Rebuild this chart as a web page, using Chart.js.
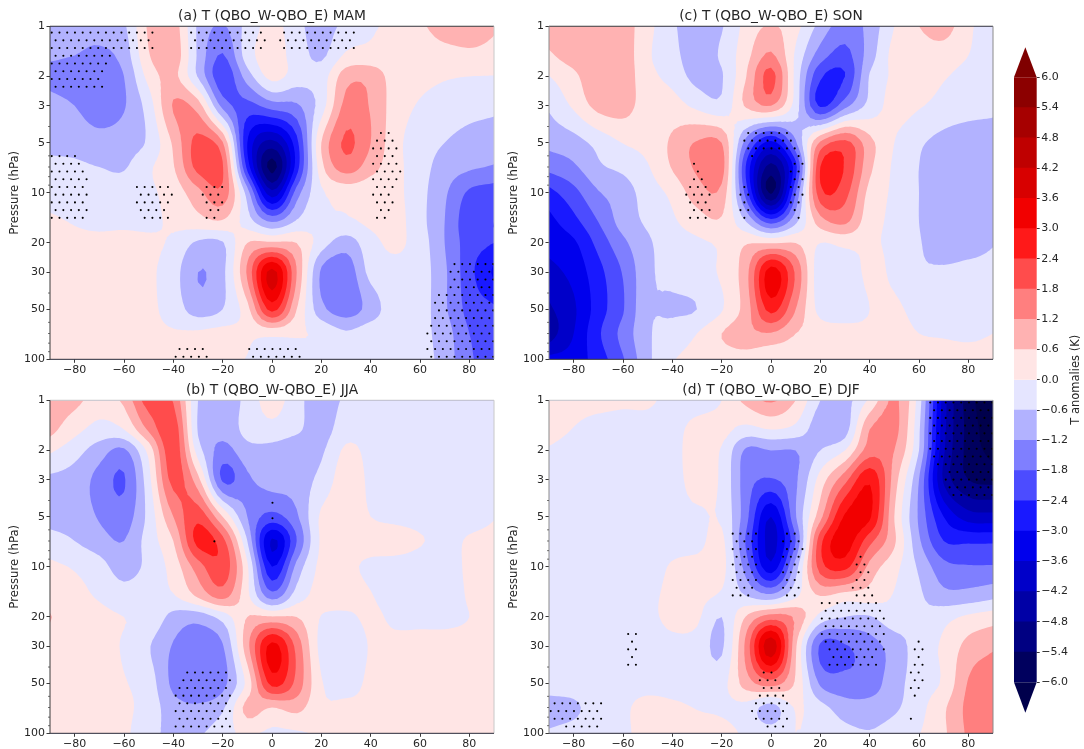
<!DOCTYPE html>
<html>
<head>
<meta charset="utf-8">
<title>T (QBO_W-QBO_E)</title>
<script src="https://cdn.jsdelivr.net/npm/chart.js@4"></script>
<style>
body { margin: 0; background: #fff; }
canvas { position: absolute; }
</style>
</head>
<body>
<canvas id="panelA" width="510" height="375" style="left:0;top:0"></canvas>
<canvas id="panelC" width="510" height="375" style="left:499px;top:0"></canvas>
<canvas id="panelB" width="510" height="375" style="left:0;top:374px"></canvas>
<canvas id="panelD" width="510" height="375" style="left:499px;top:374px"></canvas>
<canvas id="colorbar" width="84" height="749" style="left:1000px;top:0"></canvas>
<script>
// Grid of the anomalies
const lats = [-90,-80,-70,-60,-50,-40,-30,-20,-10,0,10,20,30,40,50,60,70,80,90];
const pressures = [1,1.5,2,3,5,7,10,15,20,30,50,70,100];

// T anomalies (K), one row per pressure level
const tMam = [
  [-.9,-.9,-.9,-.7,.7,.9,-.7,-1.25,-.4,.2,-.4,-.9,-.4,-.1,.2,.5,.85,.8,.65],
  [-1.1,-1.2,-1.35,-.95,.55,1,-.7,-1.85,-.3,.3,-.3,-.7,.1,.2,.2,.3,.4,.5,.45],
  [-1.4,-1.55,-1.6,-1.2,.2,.75,-.65,-2.2,-.9,.2,-.3,-.3,.95,1,.3,.15,.05,0,-.02],
  [-.95,-1.2,-1.55,-1.25,-.3,1.25,.9,-1.4,-2,-1.5,-1.3,-.3,1.4,1.15,.3,-.05,-.2,-.35,-.45],
  [-.75,-.8,-.95,-.85,-.5,.7,2,1.25,-3,-4.4,-2.6,.6,1.9,1.2,.2,-.3,-.6,-.85,-.95],
  [-.45,-.5,-.6,-.65,-.1,.55,2,1.85,-2.6,-5.6,-2.7,.4,1.5,.85,.2,-.35,-.85,-1.1,-1.25],
  [-.25,-.3,-.3,-.3,-.1,.25,1,1.6,-.9,-4,-1.5,-.1,.2,.15,.15,-.4,-1.1,-1.9,-2.1],
  [.1,-.03,-.1,-.1,-.1,.1,.35,.5,-.3,-1.2,-.5,-.1,-.1,.1,.2,-.4,-1.2,-2.2,-2.4],
  [.15,.1,.1,.15,.1,-.1,-.7,-.65,.6,.7,.6,-.3,-.9,-.2,.1,-.3,-1.2,-2.1,-2.4],
  [.1,.1,.1,.1,.1,-.35,-1.2,-.75,1.3,3.8,1.2,-1.3,-1.6,-.4,-.15,-.3,-1.1,-2.2,-3.1],
  [.1,.1,.1,.1,.1,-.25,-.9,-.6,.4,2.6,.6,-1,-1.5,-.95,-.2,-.3,-1.1,-2,-2.3],
  [.1,.1,.1,.1,.1,.05,.1,.2,.1,.15,.05,-.1,-.5,-.2,-.15,-.4,-.9,-1.8,-2.1],
  [.1,.1,.1,.1,.1,.1,.1,.1,-.02,-.3,-.1,-.2,-.2,-.2,-.2,-.35,-.85,-1.7,-2.1]
];
const tJja = [
  [1,.8,.3,.75,2.1,1.75,-.6,-1,-.4,.3,-.4,-.9,-.5,-.3,-.3,-.3,-.3,-.3,-.3],
  [.8,.2,-.2,0,1.3,2.2,-.65,-1,-.4,-.2,-.5,-.85,-.25,-.2,-.2,-.2,-.2,-.2,-.2],
  [.1,-.35,-.9,-1.3,.2,2.2,-.3,-1.4,-.8,-.8,-1,-.7,.1,-.15,-.2,-.2,-.2,-.2,-.2],
  [-.7,-.85,-1.4,-1.85,-.2,2,.8,-1.9,-1.3,-.95,-.95,-.4,.3,-.1,-.2,-.2,-.2,-.2,-.2],
  [-.8,-.85,-1.25,-1.5,-.4,1.2,2.2,.6,-1.2,-2,-1.3,.1,.2,0,-.15,-.2,-.2,-.15,-.02],
  [-.35,-.6,-.95,-1.2,-.3,.6,2.6,2,-.6,-3.7,-1.8,.1,.15,.2,.3,.05,-.15,.05,.1],
  [.1,-.05,-.35,-.9,-.4,.25,1.5,2.2,.1,-3,-1,.15,.1,-.1,-.25,-.3,-.3,.1,.1],
  [.1,.1,-.05,-.3,-.1,-.05,.7,1.4,.15,-1.5,-.3,.2,.2,.03,-.25,-.3,-.3,.05,.1],
  [.65,.1,.1,0,-.1,-.8,-.95,-.35,.6,.65,.6,-.02,-.1,.1,-.1,-.1,-.1,0,.1],
  [.1,.1,.1,-.05,-.55,-1.25,-1.55,-1.25,1,3.2,1.6,-.2,-.45,.05,.1,.1,.1,.1,.1],
  [.1,.1,.1,.03,-.3,-1.35,-1.7,-1.4,.2,2.6,1.6,.05,-.2,.1,.1,.1,.1,.1,.1],
  [.1,.1,.1,.1,-.25,-.95,-1.1,-.7,.8,.6,.8,.1,.1,.1,.1,.1,.1,.1,.1],
  [.1,.1,.1,.1,-.4,-.75,-.7,-.2,.1,-.15,-.1,.1,.1,.1,.1,.1,.1,.1,.1]
];
const tSon = [
  [.9,1.15,1.1,.9,.2,-.5,-.9,-.65,.2,.65,.2,-.8,-1.5,-1,0,.6,.9,.1,-.2],
  [.5,.9,1.05,.95,.1,-.4,-.9,-.5,.4,1.3,-.1,-1.5,-2,-.9,.2,.3,.3,0,-.3],
  [-.02,.45,1.1,.95,.2,-.2,-.8,-.65,.6,2,-.2,-2.3,-2.4,-.55,.1,.25,.05,-.2,-.35],
  [-.5,.1,.8,.85,.3,.25,-.15,-.4,.7,1.2,-.3,-2.5,-1.4,-.4,.2,.05,-.2,-.35,-.45],
  [-1.05,-.85,-.4,.02,.2,.7,1.25,1.2,-1.5,-3.2,-1.3,1.3,2,.8,0,-.5,-.8,-.95,-.95],
  [-1.6,-1.3,-.7,-.45,-.05,.65,1.3,1.5,-2.5,-5,-2.6,2.4,2.35,.75,-.1,-.6,-.9,-1,-1],
  [-2.6,-2,-1.25,-.9,-.3,.15,.9,1,-2.1,-5.5,-1.8,2.2,2,.4,-.1,-.6,-.85,-.95,-1],
  [-3.2,-2.6,-1.8,-.95,-.5,-.1,.3,.5,-.6,-2,-.7,.9,1.3,.2,-.1,-.6,-.95,-1,-1],
  [-3.4,-3.1,-2.2,-1.35,-.7,-.3,-.1,.1,.55,.55,.6,0,.15,.05,-.1,-.55,-.95,-.9,-.65],
  [-3.8,-3.4,-2.6,-1.75,-.75,-.4,-.2,.1,1,3.3,1.7,-.4,-.3,.1,-.1,-.5,-.5,-.4,-.4],
  [-4.3,-3.7,-2.7,-1.85,-.7,-.7,-.6,-.05,.9,2.6,1.2,-.2,-.3,0,.1,-.2,-.3,-.35,-.4],
  [-4.5,-3.6,-2.5,-1.6,-.7,-.3,0,.6,1,1.15,.6,.3,.2,.1,.2,0,-.05,-.1,0],
  [-3.4,-3.3,-2.7,-1.85,-.75,-.05,.15,.3,.3,-.02,.2,.1,.1,.1,.2,.2,.2,.2,.1]
];
const tDjf = [
  [.1,.2,.2,.1,.1,-.2,-.3,0,.8,1.3,.6,-.6,-.8,.1,1.3,-.3,-3.9,-5.7,-6.6],
  [.2,-.02,-.2,-.2,-.2,-.2,.2,.2,-.2,0,-.2,-.95,-.85,1.2,1.4,-.5,-4,-5.6,-6.4],
  [-.05,-.2,-.2,-.2,-.2,-.15,.2,-.05,-1.3,-1.2,-1.2,-.6,0,1.5,1.2,-.6,-4.1,-5.6,-6.2],
  [-.2,-.2,-.2,-.2,-.2,-.2,.2,-.1,-1.5,-1.85,-1.3,.25,1.6,2.9,.9,-1.2,-4.3,-5.4,-5.6],
  [-.2,-.2,-.2,-.2,-.2,-.2,-.1,-.1,-1.6,-3.6,-1.25,1,3.1,3.1,.6,-1.3,-3,-3.9,-4],
  [-.2,-.2,-.2,-.2,-.2,-.2,-.2,.15,-1.9,-3.8,-1.8,2.2,3.3,2,.7,-1.1,-2.4,-2.5,-2.5],
  [-.2,-.2,-.2,-.2,-.2,.05,.2,.2,-1.5,-3.4,-.9,2.1,2.6,1,.2,-.7,-1.6,-1.75,-1.75],
  [-.2,-.2,-.2,-.2,-.1,.1,.15,-.1,-.6,-1,-.1,.6,.3,.3,-.05,-.5,-1,-.95,-.75],
  [-.2,-.2,-.2,-.2,-.1,.1,.1,-.6,.65,1.5,1.1,-.2,-.6,-.65,-.2,-.5,-.2,.1,.3],
  [-.2,-.2,-.2,-.2,-.2,-.1,-.2,-.7,1.4,4,.7,-1.9,-1.85,-1.45,-.95,-.3,.1,.8,1.1],
  [-.2,-.2,-.2,-.2,-.2,-.2,-.2,-.2,.9,1.5,.5,-1.3,-1.6,-1.5,-.85,-.3,.1,1.25,1.6],
  [-.95,-.75,-.2,-.1,.2,.1,-.02,-.1,-.2,-.85,.05,-.4,-.9,-.95,-.7,-.2,.5,1.35,1.6],
  [-.5,-.3,-.2,-.1,.2,.2,.2,.2,-.1,-.3,0,-.2,-.4,-.55,-.3,-.02,.5,1.3,1.6]
];

// Significance stippling: pressure of each dot row, upper and lower panels differ slightly
const rowPressuresTop = [1.092,1.215,1.352,1.504,1.674,1.862,2.072,2.306,2.565,2.854,3.174,3.532,3.929,4.372,4.864,5.412,6.021,6.699,7.454,8.293,9.226,10.26,11.42,12.71,14.14,15.73,17.5,19.47,21.66,24.1,26.81,29.83,33.19,36.93,41.08,45.71,50.85,56.57,62.94,70.03,77.91,86.69,96.45];
const rowPressuresLow = [1.031,1.147,1.276,1.42,1.58,1.758,1.956,2.177,2.421,2.694,2.996,3.334,3.709,4.127,4.592,5.109,5.684,6.324,7.037,7.829,8.709,9.685,10.78,12,13.35,14.85,16.52,18.38,20.45,22.75,25.31,28.16,31.33,34.86,38.78,43.15,48,53.4,59.42,66.11,73.55,81.84,91.05];
// Each run is [row, first column, last column] of the dot lattice
const dotsMam = [
  [0,0,13],[0,18,27],[0,30,39],[1,0,12],[1,18,27],[1,29,38],[2,0,13],[2,18,27],[2,30,39],[3,0,7],
  [4,0,7],[5,0,6],[6,0,6],[7,0,6],
  [16,0,3],[17,0,3],[18,0,4],[19,0,4],[20,0,4],[21,0,4],[22,0,4],[23,0,4],[24,0,4],
  [20,11,15],[21,11,15],[22,11,15],[23,11,14],[24,12,15],
  [20,20,22],[21,19,21],[22,20,22],[23,20,21],[24,20,21],
  [41,16,19],[42,16,20],[41,25,31],[42,26,32],
  [13,42,43],[14,42,44],[15,41,44],[16,42,44],[17,41,44],[18,42,45],[19,41,44],[20,42,44],[21,41,43],[22,42,44],[23,42,43],[24,42,43],
  [30,52,57],[31,51,56],[32,52,57],[33,51,56],[34,50,57],[35,49,56],[36,50,57],[37,49,56],[38,49,57],[39,48,56],[40,49,57],[41,48,56],[42,49,57]
];
const dotsJja = [
  [35,17,22],[36,17,23],[37,16,22],[38,16,23],[39,16,22],[40,16,23],[41,16,22],[42,16,23],
  [18,21,21],[13,28,28],[15,28,28]
];
const dotsSon = [
  [17,18,18],[18,19,19],[19,18,19],[20,18,20],[21,17,20],[22,18,20],[23,18,20],[24,18,20],
  [13,25,30],[14,25,31],[15,25,31],[16,26,26],[16,32,32],[17,31,32],[18,31,32],[19,31,32],[20,31,32],[21,31,32],[22,31,32],[23,31,31],[24,32,32],
  [20,25,25],[21,24,25],[22,25,25],[23,24,25],[24,25,25]
];
const dotsDjf = [
  [17,23,26],[18,24,26],[19,23,26],[20,24,26],[21,23,26],[22,24,26],[23,23,26],[24,24,26],[25,23,25],
  [17,30,31],[18,30,32],[19,30,32],[20,30,32],[21,30,31],[22,30,32],[23,30,31],[24,30,32],[25,30,31],
  [30,10,11],[31,10,10],[32,10,11],[33,10,10],[34,10,11],
  [39,0,6],[40,0,6],[41,0,6],[42,2,6],
  [35,27,28],[36,27,29],[37,27,29],[38,27,30],[39,26,30],[40,26,30],[41,26,30],[42,28,30],
  [26,35,42],[27,35,42],[28,35,43],[29,35,42],[30,35,43],[31,35,42],[32,36,43],[33,36,41],[34,36,42],
  [20,40,40],[21,39,40],[22,40,41],[23,39,40],[24,39,41],[25,39,41],
  [31,47,47],[32,47,48],[33,47,47],[34,47,48],[35,46,47],[36,47,48],[37,46,47],[38,47,47],[41,46,46],
  [0,49,57],[1,49,56],[2,49,57],[3,49,56],[4,49,57],[5,49,56],[6,49,57],[7,49,56],[8,50,57],[9,51,56],[10,51,57],[11,51,56],[12,52,57]
];

// Contour levels and axis ticks
const bandLevels = [-6,-5.4,-4.8,-4.2,-3.6,-3,-2.4,-1.8,-1.2,-.6,0,.6,1.2,1.8,2.4,3,3.6,4.2,4.8,5.4,6];
const bandColors = ['#00005e','#000082','#0000a6','#0000c9','#0000ed','#1919ff','#4c4cff','#7f7fff','#b2b2ff','#e5e5ff',
                    '#ffe5e5','#ffb2b2','#ff7f7f','#ff4c4c','#ff1919','#f20000','#d80000','#bf0000','#a60000','#8c0000'];
const underColor = '#00004c';
const overColor = '#7f0000';
const latTicks = [-80,-60,-40,-20,0,20,40,60,80];
const pressureTicks = [1,2,3,5,10,20,30,50,100];
const pressureMinorTicks = [4,6,7,8,9,40,60,70,80,90];

const TEXT = '#262626';
const DARK = '#3a3a3a';
const PALE = '#c8c8c8';
const FONT = 'DejaVu Sans';

// Hermite resampling of one line, only used to round the painted contours
function refineLine(xs, ys, n) {
    const slope = i => {
        const a = Math.max(i - 1, 0), b = Math.min(i + 1, xs.length - 1);
        return (ys[b] - ys[a]) / (xs[b] - xs[a]);
    };
    const out = [];
    for (let i = 0; i < xs.length - 1; i++) {
        const h = xs[i + 1] - xs[i];
        for (let k = 0; k < n; k++) {
            const t = k / n, t2 = t * t, t3 = t2 * t;
            out.push((2*t3 - 3*t2 + 1) * ys[i] + (t3 - 2*t2 + t) * h * slope(i)
                   + (3*t2 - 2*t3) * ys[i + 1] + (t3 - t2) * h * slope(i + 1));
        }
    }
    out.push(ys[ys.length - 1]);
    return out;
}

function refineAxis(xs, n) {
    const out = [];
    for (let i = 0; i < xs.length - 1; i++) {
        for (let k = 0; k < n; k++) out.push(xs[i] + (xs[i + 1] - xs[i]) * k / n);
    }
    out.push(xs[xs.length - 1]);
    return out;
}

// Paint the filled contours through the chart scales
function contourPlugin(field) {
    const n = 5;
    const logP = pressures.map(p => Math.log10(p));
    const fineLat = refineAxis(lats, n);
    const fineLog = refineAxis(logP, n);
    const byLat = field.map(row => refineLine(lats, row, n));
    const fine = [];
    fineLog.forEach(() => fine.push([]));
    fineLat.forEach((_, j) => {
        const col = refineLine(logP, byLat.map(row => row[j]), n);
        col.forEach((v, i) => fine[i].push(v));
    });

    return {
        id: 'contour',
        beforeDatasetsDraw(chart) {
            const { ctx, chartArea: area, scales: { x, y } } = chart;
            const px = fineLat.map(v => x.getPixelForValue(v));
            const py = fineLog.map(v => y.getPixelForValue(Math.pow(10, v)));

            const addTriangle = (tri, level) => {
                const poly = [];
                for (let a = 0; a < 3; a++) {
                    const p = tri[a], q = tri[(a + 1) % 3];
                    if (p[2] >= level) poly.push(p);
                    if ((p[2] >= level) !== (q[2] >= level)) {
                        const t = (level - p[2]) / (q[2] - p[2]);
                        poly.push([p[0] + (q[0] - p[0]) * t, p[1] + (q[1] - p[1]) * t]);
                    }
                }
                if (poly.length < 3) return;
                ctx.moveTo(poly[0][0], poly[0][1]);
                for (let a = 1; a < poly.length; a++) ctx.lineTo(poly[a][0], poly[a][1]);
                ctx.closePath();
            };

            ctx.save();
            ctx.beginPath();
            ctx.rect(area.left, area.top, area.width, area.height);
            ctx.clip();
            ctx.fillStyle = underColor;
            ctx.fillRect(area.left, area.top, area.width, area.height);
            bandLevels.forEach((level, b) => {
                ctx.fillStyle = b < bandColors.length ? bandColors[b] : overColor;
                ctx.beginPath();
                for (let i = 0; i < py.length - 1; i++) {
                    for (let j = 0; j < px.length - 1; j++) {
                        const p00 = [px[j], py[i], fine[i][j]];
                        const p10 = [px[j + 1], py[i], fine[i][j + 1]];
                        const p01 = [px[j], py[i + 1], fine[i + 1][j]];
                        const p11 = [px[j + 1], py[i + 1], fine[i + 1][j + 1]];
                        addTriangle([p00, p10, p11], level);
                        addTriangle([p00, p11, p01], level);
                    }
                }
                ctx.fill();
            });
            ctx.restore();
        }
    };
}

// Frame and small log ticks of a panel
function framePlugin(spines) {
    return {
        id: 'frame',
        afterDatasetsDraw(chart) {
            const { ctx, chartArea: a, scales: { y } } = chart;
            const line = (x0, y0, x1, y1, color, width) => {
                ctx.strokeStyle = color;
                ctx.lineWidth = width;
                ctx.beginPath();
                ctx.moveTo(x0, y0);
                ctx.lineTo(x1, y1);
                ctx.stroke();
            };
            ctx.save();
            line(a.left, a.top, a.right, a.top, spines.top, 1);
            line(a.right, a.top, a.right, a.bottom, spines.right, 1);
            line(a.left, a.bottom, a.right, a.bottom, DARK, 1);
            line(a.left, a.top, a.left, a.bottom, spines.left, 1);
            pressureMinorTicks.forEach(p => {
                const py = y.getPixelForValue(p);
                line(a.left - 2, py, a.left, py, DARK, 0.7);
            });
            ctx.restore();
        }
    };
}

function dotPoints(runs, rowPressures) {
    const points = [];
    runs.forEach(([row, first, last]) => {
        for (let c = first; c <= last; c++) {
            points.push({ x: -89.3 + 3.14 * c + (row % 2 ? 1.57 : 0), y: rowPressures[row] });
        }
    });
    return points;
}

// Create one contour panel
function createPanel(id, title, field, runs, rowPressures, spines) {
    new Chart(document.getElementById(id), {
        type: 'scatter',
        data: {
            datasets: [{
                label: 'significant',
                data: dotPoints(runs, rowPressures),
                pointRadius: 1.05,
                pointBorderWidth: 0,
                pointBackgroundColor: '#000'
            }]
        },
        options: {
            responsive: false,
            animation: false,
            layout: { padding: { right: 16 } },
            plugins: {
                legend: { display: false },
                tooltip: { enabled: false },
                title: {
                    display: true,
                    text: title,
                    fullSize: false,
                    color: TEXT,
                    font: { family: FONT, size: 13.8, weight: 'normal', lineHeight: 1.2 },
                    padding: { top: 8.5, bottom: 1.2 }
                }
            },
            scales: {
                x: {
                    type: 'linear',
                    min: -90,
                    max: 90,
                    afterBuildTicks: s => { s.ticks = latTicks.map(v => ({ value: v })); },
                    afterFit: s => { s.height = 15.7; },
                    border: { display: false },
                    grid: { drawOnChartArea: false, tickLength: 3.5, tickColor: DARK },
                    ticks: {
                        autoSkip: false,
                        maxRotation: 0,
                        padding: 1,
                        color: TEXT,
                        font: { family: FONT, size: 11 },
                        callback: v => String(v).replace('-', '\u2212')
                    }
                },
                y: {
                    type: 'logarithmic',
                    reverse: true,
                    min: 1,
                    max: 100,
                    afterBuildTicks: s => { s.ticks = pressureTicks.map(v => ({ value: v })); },
                    afterFit: s => { s.width = 50; },
                    border: { display: false },
                    grid: { drawOnChartArea: false, tickLength: 3.5, tickColor: DARK },
                    title: {
                        display: true,
                        text: 'Pressure (hPa)',
                        color: TEXT,
                        font: { family: FONT, size: 11.7 },
                        padding: { top: 8, bottom: 0 }
                    },
                    ticks: {
                        autoSkip: false,
                        padding: 1.5,
                        color: TEXT,
                        font: { family: FONT, size: 11 },
                        callback: v => String(v)
                    }
                }
            }
        },
        plugins: [contourPlugin(field), framePlugin(spines)]
    });
}

// Create the colour bar as floating bars on a value axis
function createColorbar() {
    const barEnds = {
        id: 'barEnds',
        afterDatasetsDraw(chart) {
            const { ctx, chartArea: a, scales: { y } } = chart;
            const mid = (a.left + a.right) / 2;
            const top = y.getPixelForValue(bandLevels[bandLevels.length - 1]);
            const bottom = y.getPixelForValue(bandLevels[0]);
            ctx.save();
            ctx.fillStyle = overColor;
            ctx.beginPath();
            ctx.moveTo(a.left, top);
            ctx.lineTo(mid, top - 30);
            ctx.lineTo(a.right, top);
            ctx.fill();
            ctx.fillStyle = underColor;
            ctx.beginPath();
            ctx.moveTo(a.left, bottom);
            ctx.lineTo(mid, bottom + 30.4);
            ctx.lineTo(a.right, bottom);
            ctx.fill();
            ctx.translate(76, (top + bottom) / 2);
            ctx.rotate(-Math.PI / 2);
            ctx.fillStyle = TEXT;
            ctx.font = '11.5px "DejaVu Sans"';
            ctx.textAlign = 'center';
            ctx.textBaseline = 'middle';
            ctx.fillText('T anomalies (K)', 0, 0);
            ctx.restore();
        }
    };

    new Chart(document.getElementById('colorbar'), {
        type: 'bar',
        data: {
            labels: ['T'],
            datasets: bandColors.map((color, b) => ({
                data: [[bandLevels[b], bandLevels[b + 1]]],
                backgroundColor: color,
                barPercentage: 1,
                categoryPercentage: 1,
                grouped: false
            }))
        },
        options: {
            responsive: false,
            animation: false,
            layout: { padding: { left: 14, top: 77.3, bottom: 66.7 } },
            plugins: { legend: { display: false }, tooltip: { enabled: false } },
            scales: {
                x: { display: false },
                y: {
                    position: 'right',
                    min: -6,
                    max: 6,
                    afterBuildTicks: s => { s.ticks = bandLevels.map(v => ({ value: v })); },
                    afterFit: s => { s.width = 47.3; },
                    border: { display: false },
                    grid: { drawOnChartArea: false, tickLength: 3, tickColor: DARK },
                    ticks: {
                        autoSkip: false,
                        padding: 1.5,
                        color: TEXT,
                        font: { family: FONT, size: 11 },
                        callback: v => v.toFixed(1).replace('-', '\u2212')
                    }
                }
            }
        },
        plugins: [barEnds]
    });
}

createPanel('panelA', '(a) T (QBO_W-QBO_E) MAM', tMam, dotsMam, rowPressuresTop, { top: DARK, left: DARK, right: PALE });
createPanel('panelB', '(b) T (QBO_W-QBO_E) JJA', tJja, dotsJja, rowPressuresLow, { top: PALE, left: DARK, right: PALE });
createPanel('panelC', '(c) T (QBO_W-QBO_E) SON', tSon, dotsSon, rowPressuresTop, { top: DARK, left: '#8a8a8a', right: '#8a8a8a' });
createPanel('panelD', '(d) T (QBO_W-QBO_E) DJF', tDjf, dotsDjf, rowPressuresLow, { top: PALE, left: '#8a8a8a', right: '#8a8a8a' });
createColorbar();
</script>
</body>
</html>
